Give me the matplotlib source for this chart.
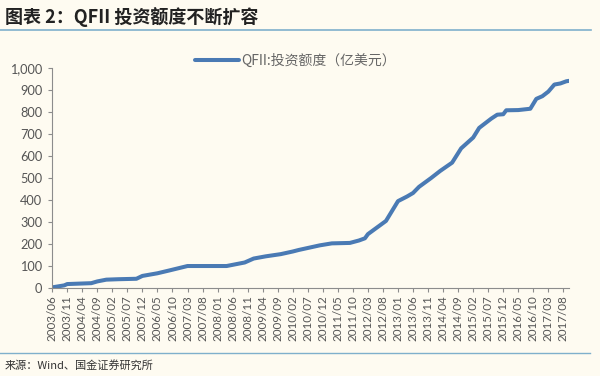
import matplotlib
matplotlib.use("Agg")
import matplotlib.pyplot as plt
import numpy as np

plt.rcParams["font.family"] = ["Lato", "Noto Sans CJK SC", "DejaVu Sans"]

# QFII 投资额度（亿美元），按月读数
dates = [
    "2003/06", "2003/10", "2003/11", "2004/07", "2004/09", "2004/12", "2005/04",
    "2005/10", "2005/12", "2006/05", "2006/09", "2007/03", "2008/04", "2008/10",
    "2009/01", "2009/05", "2009/10", "2010/02", "2010/04", "2010/11", "2011/03",
    "2011/09", "2011/12", "2012/02", "2012/03", "2012/09", "2013/01", "2013/04",
    "2013/06", "2013/08", "2013/12", "2014/03", "2014/07", "2014/10", "2015/02",
    "2015/04", "2015/08", "2015/10", "2015/12", "2016/01", "2016/05", "2016/09",
    "2016/11", "2017/01", "2017/03", "2017/05", "2017/07", "2017/09", "2017/10",
]
values = [
    3, 12, 18, 22, 30, 38, 40,
    42, 55, 67, 80, 100, 100, 116,
    134, 144, 154, 166, 173, 194, 203,
    205, 216, 226, 245, 305, 395, 416,
    432, 460, 500, 532, 570, 635, 684,
    728, 770, 788, 790, 808, 809, 815,
    860, 872, 893, 925, 930, 940, 942,
]
tick_labels = [
    "2003/06", "2003/11", "2004/04", "2004/09", "2005/02", "2005/07", "2005/12",
    "2006/05", "2006/10", "2007/03", "2007/08", "2008/01", "2008/06", "2008/11",
    "2009/04", "2009/09", "2010/02", "2010/07", "2010/12", "2011/05", "2011/10",
    "2012/03", "2012/08", "2013/01", "2013/06", "2013/11", "2014/04", "2014/09",
    "2015/02", "2015/07", "2015/12", "2016/05", "2016/10", "2017/03", "2017/08",
]


def month_index(s):
    y, m = s.split("/")
    return (int(y) - 2003) * 12 + int(m) - 6


x = [month_index(d) for d in dates]
xt = [month_index(d) for d in tick_labels]

bg = "#FEFBF1"
fig = plt.figure(figsize=(6, 3.76), dpi=100, facecolor=bg)
ax = fig.add_axes([0.087, 0.234, 0.862, 0.585], facecolor=bg)

ax.plot(x, values, color="#4A7AB4", linewidth=2.9, solid_capstyle="round",
        label="QFII:投资额度（亿美元）")

ax.set_xlim(0, 172)
ax.set_ylim(0, 1000)
ax.set_yticks(np.arange(0, 1001, 100))
ax.set_yticklabels([f"{v:,}" for v in range(0, 1001, 100)])
ax.set_xticks(xt)
ax.set_xticklabels(tick_labels, rotation=90)

for side in ["top", "right"]:
    ax.spines[side].set_visible(False)
for side in ["left", "bottom"]:
    ax.spines[side].set_color("#8C8C8C")
    ax.spines[side].set_linewidth(0.8)
ax.tick_params(axis="both", colors="#8C8C8C", length=3, width=0.8,
               labelcolor="#555555", pad=2)
ax.tick_params(axis="y", labelsize=9.2, pad=4)
ax.tick_params(axis="x", labelsize=8.4)

leg = ax.legend(loc="lower center", bbox_to_anchor=(0.47, 0.975), frameon=False,
                handlelength=3.2, handletextpad=0.1, borderaxespad=0,
                prop={"family": ["Noto Sans CJK SC"], "size": 10})
for t in leg.get_texts():
    t.set_color("#666666")

# 标题与来源
fig.text(0.008, 0.955, "图表 2：QFII 投资额度不断扩容", fontsize=13, fontweight="bold",
         family=["Noto Sans CJK SC", "DejaVu Sans"], color="#222222", va="center")
fig.add_artist(plt.Line2D([0, 0.985], [0.92, 0.92], color="#7FB0CC", linewidth=1.2))
fig.add_artist(plt.Line2D([0, 0.983], [0.06, 0.06], color="#7FB0CC", linewidth=1.0))
fig.text(0.008, 0.027, "来源：Wind、国金证券研究所", fontsize=8,
         family=["Noto Sans CJK SC", "DejaVu Sans"], color="#333333", va="center")

fig.savefig("out.png", dpi=100, facecolor=bg)
